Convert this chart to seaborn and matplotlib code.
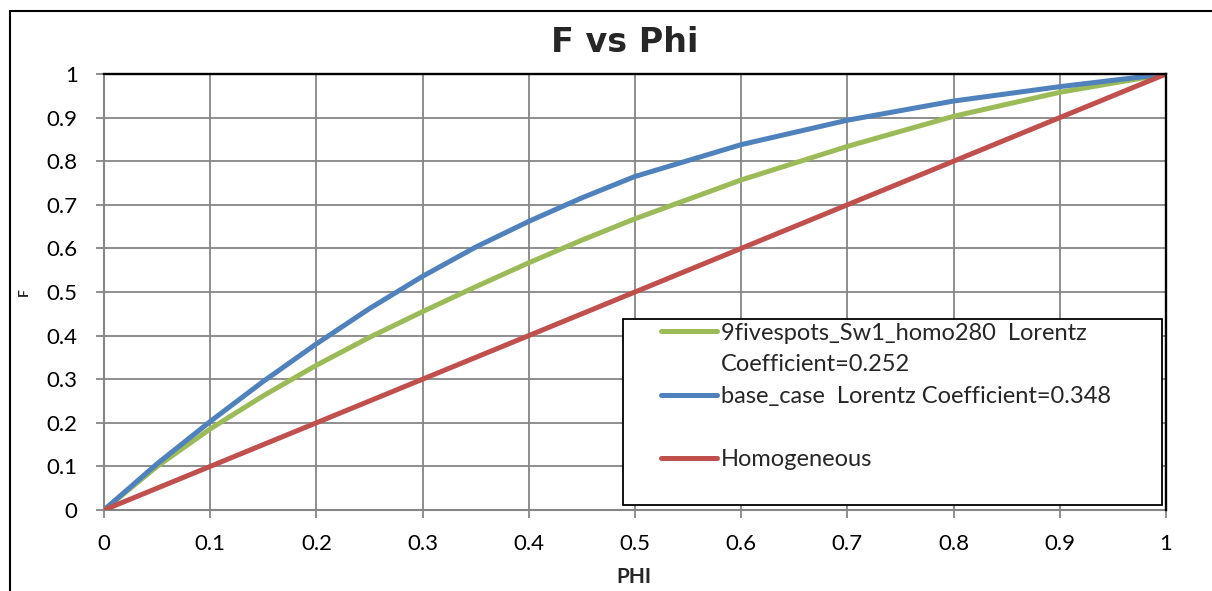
import numpy as np
import pandas as pd
import matplotlib
matplotlib.use("Agg")
import matplotlib.pyplot as plt
import seaborn as sns
from matplotlib.lines import Line2D
from matplotlib.legend_handler import HandlerLine2D
from matplotlib.patches import Rectangle
from matplotlib.ticker import FuncFormatter

# ---------------- data ----------------
phi = [0.0, 0.05, 0.1, 0.15, 0.2, 0.25, 0.3, 0.35, 0.4, 0.45, 0.5, 0.6, 0.7, 0.8, 0.9, 1.0]
f_homo280 = [0.0, 0.100, 0.186, 0.262, 0.332, 0.396, 0.455, 0.512, 0.567, 0.619, 0.668,
             0.757, 0.834, 0.903, 0.958, 1.0]
f_base = [0.0, 0.106, 0.203, 0.295, 0.381, 0.462, 0.536, 0.603, 0.662, 0.716, 0.765,
          0.838, 0.894, 0.938, 0.971, 1.0]
f_homog = [0.0, 0.05, 0.1, 0.15, 0.2, 0.25, 0.3, 0.35, 0.4, 0.45, 0.5, 0.6, 0.7, 0.8, 0.9, 1.0]

series_names = ["9fivespots_Sw1_homo280", "base_case", "Homogeneous"]
legend_labels = ["9fivespots_Sw1_homo280  Lorentz", "Coefficient=0.252",
                 "base_case  Lorentz Coefficient=0.348", " ", "Homogeneous", " "]
x_ticks = [0, 0.1, 0.2, 0.3, 0.4, 0.5, 0.6, 0.7, 0.8, 0.9, 1]
y_ticks = [0, 0.1, 0.2, 0.3, 0.4, 0.5, 0.6, 0.7, 0.8, 0.9, 1]
title = "F vs Phi"
xlabel = "PHI"
ylabel = "F"

colors = {"9fivespots_Sw1_homo280": "#9BBB59", "base_case": "#4F81BD", "Homogeneous": "#C0504D"}

df = pd.concat([
    pd.DataFrame({"PHI": phi, "F": f_homo280, "series": series_names[0]}),
    pd.DataFrame({"PHI": phi, "F": f_base, "series": series_names[1]}),
    pd.DataFrame({"PHI": phi, "F": f_homog, "series": series_names[2]}),
], ignore_index=True)

# ---------------- style ----------------
sns.set_style("white")
plt.rcParams["font.family"] = ["Lato", "DejaVu Sans"]

W, H = 1212, 591
fig = plt.figure(figsize=(W / 100, H / 100), dpi=100)
ax = fig.add_axes([104 / W, 1 - 510 / H, 1062 / W, 436 / H])

GRID = "#868686"
LW = 3.6
sns.lineplot(data=df, x="PHI", y="F", hue="series", hue_order=series_names,
             palette=colors, linewidth=LW, legend=False, sort=False, ax=ax,
             zorder=3)
for ln in ax.get_lines():
    ln.set_solid_joinstyle("round")

ax.set_xlim(0, 1)
ax.set_ylim(0, 1)
ax.set_xticks(x_ticks)
ax.set_yticks(y_ticks)
fmt = FuncFormatter(lambda v, _: f"{v:g}")
ax.xaxis.set_major_formatter(fmt)
ax.yaxis.set_major_formatter(fmt)
ax.grid(True, color=GRID, linewidth=1.3)
ax.set_axisbelow(True)
ax.tick_params(axis="both", direction="out", length=6, width=1.3, color=GRID,
               labelsize=16, labelcolor="black")
ax.tick_params(axis="x", bottom=True, top=False, pad=11)
ax.tick_params(axis="y", left=True, right=False, pad=13)
ax.set_xlabel("")
ax.set_ylabel("")

for side in ["left", "bottom"]:
    ax.spines[side].set_color(GRID)
    ax.spines[side].set_linewidth(1.5)
for side in ["top", "right"]:
    ax.spines[side].set_color("black")
    ax.spines[side].set_linewidth(1.7)
    ax.spines[side].set_zorder(4)

# ---------------- legend ----------------
handles = [
    Line2D([], [], color=colors[series_names[0]], lw=LW),
    Line2D([], [], color="none", lw=LW),
    Line2D([], [], color=colors[series_names[1]], lw=LW),
    Line2D([], [], color="none", lw=LW),
    Line2D([], [], color=colors[series_names[2]], lw=LW),
    Line2D([], [], color="none", lw=LW),
]
leg = ax.legend(handles=handles, labels=legend_labels, loc="upper left",
                bbox_to_anchor=(0.4887, 0.338, 0.5075, 0.1), mode="expand",
                borderaxespad=0, borderpad=0.15, labelspacing=0.45,
                handlelength=3.83, handletextpad=0.17, fontsize=17,
                frameon=True, fancybox=False, framealpha=1, edgecolor="black",
                handler_map={Line2D: HandlerLine2D(xpad=1.46)})
leg.get_frame().set_linewidth(1.3)
leg.set_zorder(5)

# ---------------- titles / labels ----------------
fig.text(625 / W, 1 - 52 / H, title, ha="center", va="baseline",
         fontsize=24, fontweight="bold", family=["DejaVu Sans"])
fig.text(634 / W, 1 - 583 / H, xlabel, ha="center", va="baseline",
         fontsize=15, fontweight="bold")
fig.text(24 / W, 1 - 292 / H, ylabel, ha="center", va="center", rotation=90,
         fontsize=10, fontweight="bold")

# chart-area border (cropped at right and bottom)
fig.add_artist(Rectangle((9.5 / W, -0.2), 1.3, 1.2 - 10.5 / H,
                         transform=fig.transFigure, fill=False,
                         edgecolor="black", linewidth=1.5, clip_on=False))

fig.savefig("out.png", dpi=100)
